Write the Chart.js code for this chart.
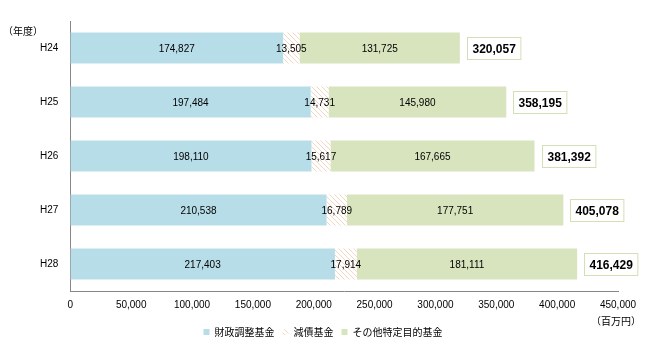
<!DOCTYPE html>
<html>
<head>
<meta charset="utf-8">
<script src="https://cdn.jsdelivr.net/npm/chart.js@4/dist/chart.umd.min.js"></script>
<style>
  html, body { margin: 0; padding: 0; background: #ffffff; }
  #wrap { position: relative; width: 656px; height: 349px; }
</style>
</head>
<body>
<div id="wrap"><canvas id="c" width="656" height="349"></canvas></div>
<script>
// 年度
const years = ['H24', 'H25', 'H26', 'H27', 'H28'];
// 基金残高（百万円）
const zaiseiChosei = [174827, 197484, 198110, 210538, 217403];
const gensai = [13505, 14731, 15617, 16789, 17914];
const sonotaTokutei = [131725, 145980, 167665, 177751, 181111];
const totals = [320057, 358195, 381392, 405078, 416429];
const xTicks = [0, 50000, 100000, 150000, 200000, 250000, 300000, 350000, 400000, 450000];

const numFont = "'Liberation Sans', 'DejaVu Sans', sans-serif";
const jpFont = "'Noto Sans CJK JP', sans-serif";

// 減債基金の斜線パターン
function makeHatch() {
  const s = 5;
  const p = document.createElement('canvas');
  p.width = s; p.height = s;
  const g = p.getContext('2d');
  g.fillStyle = '#ffffff';
  g.fillRect(0, 0, s, s);
  g.strokeStyle = '#f4d6c2';
  g.lineWidth = 1;
  g.beginPath();
  g.moveTo(-1, -1); g.lineTo(s + 1, s + 1);
  g.moveTo(-1, s - 1); g.lineTo(1, s + 1);
  g.moveTo(s - 1, -1); g.lineTo(s + 1, 1);
  g.stroke();
  return g.createPattern(p, 'repeat');
}
const hatch = makeHatch();

const fmt = v => v.toLocaleString('en-US');

// 各区分の数値と合計ボックスを描く
const labelPlugin = {
  id: 'segmentLabels',
  afterDatasetsDraw(chart) {
    const ctx = chart.ctx;
    ctx.save();
    ctx.textAlign = 'center';
    ctx.textBaseline = 'middle';
    ctx.fillStyle = '#000000';
    ctx.font = "10px " + numFont;
    chart.data.datasets.forEach((ds, di) => {
      const meta = chart.getDatasetMeta(di);
      meta.data.forEach((bar, i) => {
        const cx = (bar.x + bar.base) / 2;
        ctx.fillText(fmt(ds.data[i]), cx, bar.y + 1);
      });
    });
    // 合計
    const last = chart.getDatasetMeta(chart.data.datasets.length - 1);
    ctx.font = "bold 12px " + numFont;
    ctx.textAlign = 'left';
    last.data.forEach((bar, i) => {
      const text = fmt(totals[i]);
      const w = ctx.measureText(text).width;
      const bx = Math.round(bar.x + 7) + 0.5;
      const bh = 22;
      const by = Math.round(bar.y - bh / 2) + 0.5;
      ctx.fillStyle = '#ffffff';
      ctx.fillRect(bx, by, w + 10, bh);
      ctx.strokeStyle = '#d3e0b6';
      ctx.lineWidth = 1;
      ctx.strokeRect(bx, by, w + 10, bh);
      ctx.fillStyle = '#000000';
      ctx.fillText(text, bx + 5, by + bh / 2 + 1);
    });
    // 単位表示
    ctx.font = "10px " + jpFont;
    ctx.fillStyle = '#000000';
    ctx.textAlign = 'left';
    ctx.fillText('（年度）', 3, 31);
    ctx.fillText('（百万円）', 591, 321);
    ctx.restore();
  }
};

new Chart(document.getElementById('c'), {
  type: 'bar',
  data: {
    labels: years,
    datasets: [
      { label: '財政調整基金', data: zaiseiChosei, backgroundColor: '#b7dde8' },
      { label: '減債基金', data: gensai, backgroundColor: hatch },
      { label: 'その他特定目的基金', data: sonotaTokutei, backgroundColor: '#d7e4bd' }
    ]
  },
  options: {
    indexAxis: 'y',
    responsive: false,
    animation: false,
    events: [],
    layout: { padding: { top: 21, right: 38, bottom: 2, left: 28 } },
    datasets: { bar: { categoryPercentage: 1.0, barPercentage: 0.57, borderWidth: 0 } },
    scales: {
      x: {
        stacked: true,
        min: 0,
        max: 450000,
        afterBuildTicks(axis) { axis.ticks = xTicks.map(v => ({ value: v })); },
        grid: { display: false, drawTicks: false },
        border: { display: true, color: '#868686', width: 1 },
        ticks: {
          padding: 8,
          color: '#000000',
          font: { family: numFont, size: 10 },
          maxRotation: 0,
          callback: v => fmt(v)
        }
      },
      y: {
        stacked: true,
        grid: { display: false, drawTicks: false },
        border: { display: true, color: '#868686', width: 1 },
        ticks: {
          padding: 12,
          color: '#000000',
          font: { family: numFont, size: 10 }
        }
      }
    },
    plugins: {
      legend: {
        position: 'bottom',
        labels: {
          boxWidth: 6,
          boxHeight: 6,
          padding: 8,
          color: '#000000',
          font: { family: jpFont, size: 10 }
        }
      },
      tooltip: { enabled: false }
    }
  },
  plugins: [labelPlugin]
});
</script>
</body>
</html>
